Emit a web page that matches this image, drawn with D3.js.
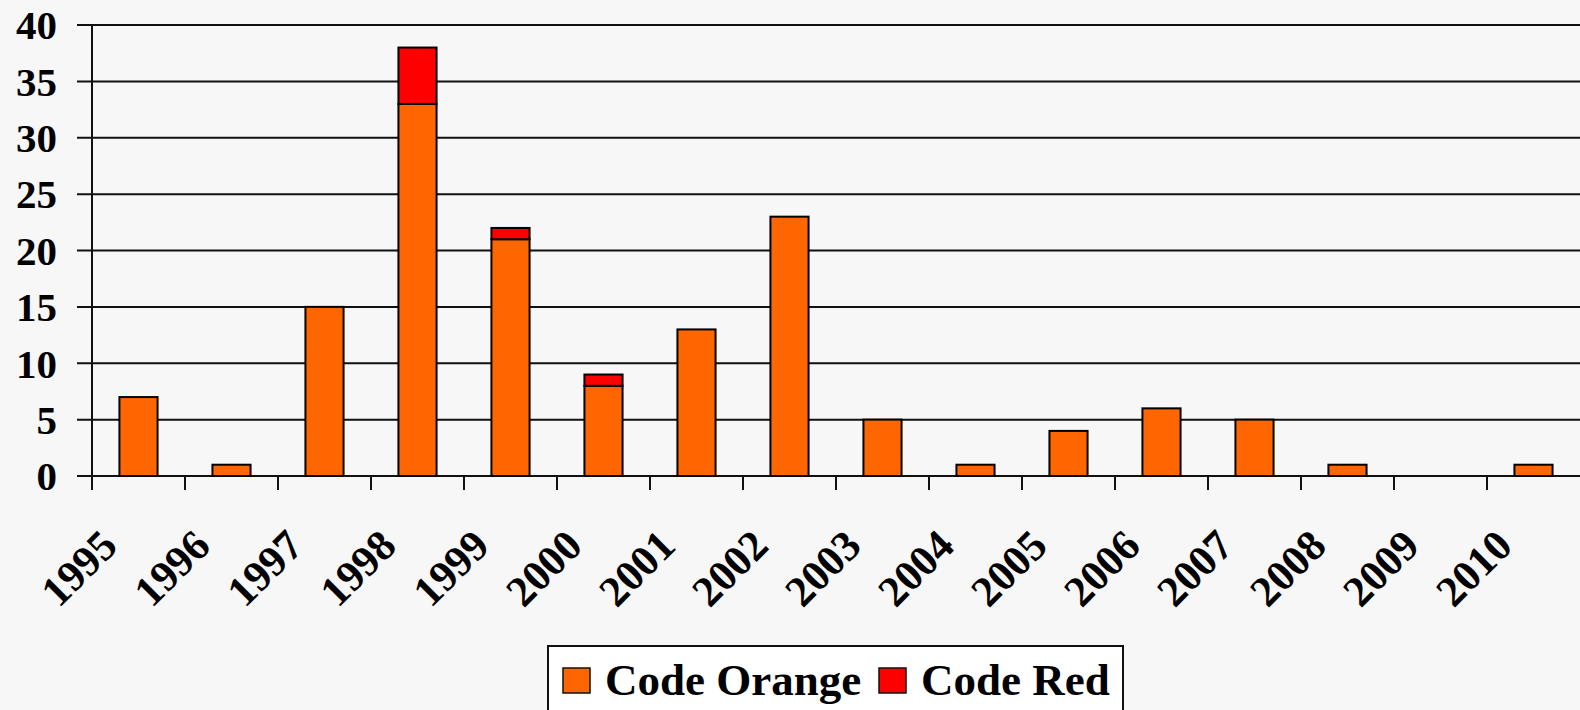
<!DOCTYPE html>
<html>
<head>
<meta charset="utf-8">
<script src="https://cdn.jsdelivr.net/npm/d3@7"></script>
<style>
	html, body { margin: 0; padding: 0; background: #f7f7f7; }
	svg { display: block; font-family: "Liberation Serif", "Times New Roman", serif; font-weight: bold; }
</style>
</head>
<body>
<script>
	var years = ["1995", "1996", "1997", "1998", "1999", "2000", "2001", "2002",
		"2003", "2004", "2005", "2006", "2007", "2008", "2009", "2010"];
	var codeOrange = [7, 1, 15, 33, 21, 8, 13, 23, 5, 1, 4, 6, 5, 1, 0, 1];
	var codeRed = [0, 0, 0, 5, 1, 1, 0, 0, 0, 0, 0, 0, 0, 0, 0, 0];
	var yTicks = [0, 5, 10, 15, 20, 25, 30, 35, 40];
	var seriesNames = ["Code Orange", "Code Red"];
	var seriesColors = ["#ff6600", "#ff0000"];

	var chartW = 1580, chartH = 710;
	var plotLeft = 92, plotRight = 1580, plotTop = 25, plotBottom = 476;

	var svg = d3.select("body").append("svg")
		.attr("width", chartW)
		.attr("height", chartH);

	var x = d3.scaleBand().domain(years).range([plotLeft, plotRight]).paddingInner(0.59).paddingOuter(0.295);
	var xTick = d3.scaleBand().domain(years).range([plotLeft, plotRight]);
	var y = d3.scaleLinear().domain([0, 40]).range([plotBottom, plotTop]);

	// gridlines
	svg.append("g").selectAll("line")
		.data(yTicks)
		.enter()
		.append("line")
		.attr("x1", 77).attr("x2", plotRight)
		.attr("y1", function(d) { return y(d); })
		.attr("y2", function(d) { return y(d); })
		.attr("stroke", "#111")
		.attr("stroke-width", 2);

	// y labels
	svg.append("g").selectAll("text")
		.data(yTicks)
		.enter()
		.append("text")
		.attr("x", 57)
		.attr("y", function(d) { return y(d); })
		.attr("dy", "0.35em")
		.attr("text-anchor", "end")
		.attr("font-size", 41)
		.text(function(d) { return d; });

	// stacked bars
	var rows = years.map(function(yr, i) {
		return { year: yr, orange: codeOrange[i], red: codeRed[i] };
	});
	var stack = d3.stack().keys(["orange", "red"])(rows);

	svg.append("g").selectAll("g")
		.data(stack)
		.enter()
		.append("g")
		.attr("fill", function(d, i) { return seriesColors[i]; })
		.selectAll("rect")
		.data(function(d) { return d.filter(function(p) { return p[1] > p[0]; }); })
		.enter()
		.append("rect")
		.attr("x", function(d) { return x(d.data.year); })
		.attr("width", x.bandwidth())
		.attr("y", function(d) { return y(d[1]); })
		.attr("height", function(d) { return y(d[0]) - y(d[1]); })
		.attr("stroke", "#000")
		.attr("stroke-width", 2);

	// y axis line
	svg.append("line")
		.attr("x1", plotLeft).attr("x2", plotLeft)
		.attr("y1", plotTop).attr("y2", plotBottom)
		.attr("stroke", "#111").attr("stroke-width", 2);

	// x ticks
	var tickPos = years.map(function(d) { return xTick(d); });
	svg.append("g").selectAll("line")
		.data(tickPos)
		.enter()
		.append("line")
		.attr("x1", function(d) { return d; })
		.attr("x2", function(d) { return d; })
		.attr("y1", plotBottom)
		.attr("y2", plotBottom + 14)
		.attr("stroke", "#111")
		.attr("stroke-width", 2);

	// x labels
	svg.append("g").selectAll("text")
		.data(years)
		.enter()
		.append("text")
		.attr("transform", function(d) {
			return "translate(" + (xTick(d) + xTick.bandwidth() / 2 - 19) + ",548) rotate(-45)";
		})
		.attr("text-anchor", "end")
		.attr("font-size", 43)
		.text(function(d) { return d; });

	// legend
	var legend = svg.append("g");
	legend.append("rect")
		.attr("x", 548).attr("y", 646)
		.attr("width", 575).attr("height", 80)
		.attr("fill", "#fff")
		.attr("stroke", "#111")
		.attr("stroke-width", 2);

	var legendX = [563, 879];
	seriesNames.forEach(function(name, i) {
		legend.append("rect")
			.attr("x", legendX[i]).attr("y", 668)
			.attr("width", 27).attr("height", 25)
			.attr("fill", seriesColors[i])
			.attr("stroke", "#111")
			.attr("stroke-width", 1.5);
		legend.append("text")
			.attr("x", legendX[i] + 42)
			.attr("y", 695)
			.attr("font-size", 45)
			.text(name);
	});
</script>
</body>
</html>
